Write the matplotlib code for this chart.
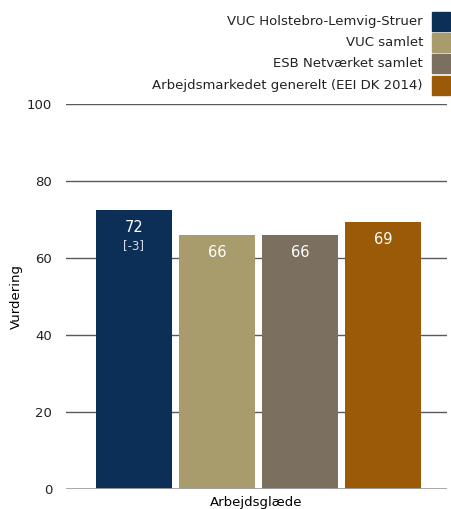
import matplotlib
matplotlib.use("Agg")
import matplotlib.pyplot as plt
from matplotlib.patches import Rectangle

series = ["VUC Holstebro-Lemvig-Struer", "VUC samlet", "ESB Netværket samlet",
          "Arbejdsmarkedet generelt (EEI DK 2014)"]
values = [72.5, 66, 66, 69.4]
labels = ["72", "66", "66", "69"]
sublabels = ["[-3]", "", "", ""]
colors = ["#0b2f57", "#a89b6c", "#7b6f5f", "#9a5a07"]
category = "Arbejdsglæde"

plt.rcParams["font.family"] = "DejaVu Sans"
fig = plt.figure(figsize=(4.51, 5.09), dpi=100)
ax = fig.add_axes([66 / 451, 1 - 489 / 509, (447 - 66) / 451, (489 - 104) / 509])

x = list(range(len(values)))
ax.bar(x, values, width=0.916, color=colors, zorder=2)
ax.set_xlim(-0.819, 3.771)
ax.set_ylim(0, 100)
ax.set_yticks([0, 20, 40, 60, 80, 100])
for y in [20, 40, 60, 80, 100]:
    ax.axhline(y, color="#5a5a5a", lw=1, zorder=1)
ax.axhline(0, color="#a0a0a0", lw=2, zorder=3)

for s in ax.spines.values():
    s.set_visible(False)
ax.tick_params(axis="y", length=0, pad=10, labelsize=9.5, colors="#222222")
ax.set_xticks([])
ax.set_ylabel("Vurdering", fontsize=9.5, labelpad=3)
ax.set_xlabel(category, fontsize=9.5, labelpad=5)

for xi, v, lab, sub in zip(x, values, labels, sublabels):
    ax.text(xi, v - 4.7, lab, ha="center", va="center", color="white", fontsize=10.5, zorder=4)
    if sub:
        ax.text(xi, v - 9.2, sub, ha="center", va="center", color="#d8dde6", fontsize=8.5, zorder=4)

# legend, drawn by hand at the top right
ys = [21.5, 42.5, 63.5, 85]
for name, c, yp in zip(series, colors, ys):
    fig.text(423 / 451, 1 - yp / 509, name, ha="right", va="center", fontsize=9.5, color="#222222")
    fig.patches.append(Rectangle((432 / 451, 1 - (yp + 9.5) / 509), 18 / 451, 19 / 509,
                                 transform=fig.transFigure, color=c))

fig.savefig("out.png", dpi=100)
